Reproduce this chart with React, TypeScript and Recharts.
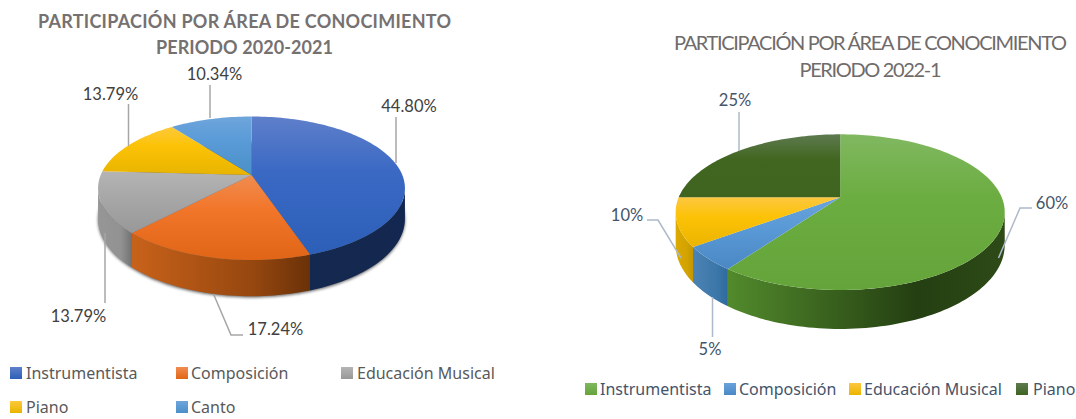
import React from "react";
import { PieChart, Pie, Legend } from "recharts";

const categories2020 = ["Instrumentista", "Composición", "Educación Musical", "Piano", "Canto"];
const values2020 = [44.8, 17.24, 13.79, 13.79, 10.34];
const labels2020 = ["44.80%", "17.24%", "13.79%", "13.79%", "10.34%"];

const categories2022 = ["Instrumentista", "Composición", "Educación Musical", "Piano"];
const values2022 = [60, 5, 10, 25];
const labels2022 = ["60%", "5%", "10%", "25%"];

const paletteLeft = [
  { light: "#5f7fca", base: "#3a69c4", dark: "#2c5fb8", sideA: "#14294f", sideM: "#14284f", sideB: "#132650" },
  { light: "#f08c50", base: "#f2762a", dark: "#e06516", sideA: "#c8621a", sideM: "#96470f", sideB: "#6a3108" },
  { light: "#b4b4b4", base: "#a8a8a8", dark: "#989898", sideA: "#969696", sideM: "#929292", sideB: "#727272" },
  { light: "#fdc93a", base: "#fcc206", dark: "#e8b400", sideA: "#c99a00", sideM: "#b88c00", sideB: "#a88000" },
  { light: "#6fa5db", base: "#5a9bd8", dark: "#4a90c8", sideA: "#4a86bd", sideM: "#3d74a6", sideB: "#30618f" },
];
const paletteRight = [
  { light: "#80b860", base: "#6cad41", dark: "#64a43a", sideA: "#528a2c", sideM: "#243f12", sideB: "#2d4a17" },
  { light: "#6aa3dc", base: "#5a9ad6", dark: "#4a88c4", sideA: "#4b83b3", sideM: "#3c77a9", sideB: "#2f6a9e" },
  { light: "#fdc740", base: "#fcc206", dark: "#ecb400", sideA: "#dcaa00", sideM: "#d2a200", sideB: "#c49600" },
  { light: "#5e7a50", base: "#41661f", dark: "#3f6420", sideA: "#3f6420", sideM: "#34541a", sideB: "#2a4415" },
];

type View = { id: string; tilt: number; persp: number; depth: number; shadow: boolean };
const viewLeft: View = { id: "l", tilt: 0.4596, persp: 0.185, depth: 29.5, shadow: true };
const viewRight: View = { id: "r", tilt: 0.4644, persp: 0.191, depth: 31.5, shadow: false };

const rad = (d: number) => (d * Math.PI) / 180;

function project(p: any, view: View, theta: number, drop = 0) {
  const u = Math.sin(rad(theta));
  const v = -Math.cos(rad(theta));
  const w = 1 - view.persp * v;
  return [p.cx + (p.outerRadius * u) / w, p.cy + (p.outerRadius * view.tilt * v + drop) / w];
}

function arc(p: any, view: View, a: number, b: number, drop = 0) {
  const n = Math.max(2, Math.ceil(Math.abs(b - a) / 1.5));
  const pts: number[][] = [];
  for (let i = 0; i <= n; i++) pts.push(project(p, view, a + ((b - a) * i) / n, drop));
  return pts;
}
const toPath = (pts: number[][]) => pts.map((q, i) => `${i ? "L" : "M"}${q[0].toFixed(2)} ${q[1].toFixed(2)}`).join(" ");

const topShape = (view: View, palette: any[]) => (p: any) => {
  const a = 90 - p.startAngle;
  const b = 90 - p.endAngle;
  const c = palette[p.index];
  const gid = `${view.id}-top-${p.index}`;
  return (
    <g>
      <defs>
        <linearGradient id={gid} x1="0" y1="0" x2="0" y2="1">
          <stop offset="0" stopColor={c.light} />
          <stop offset="0.4" stopColor={c.base} />
          <stop offset="1" stopColor={c.dark} />
        </linearGradient>
      </defs>
      <path d={`M${p.cx} ${p.cy} ${toPath(arc(p, view, a, b)).replace(/^M/, "L")} Z`} fill={`url(#${gid})`} />
    </g>
  );
};

const sideShape = (view: View, palette: any[]) => (p: any) => {
  const edge = (Math.acos(-view.persp) * 180) / Math.PI;
  const a = Math.max(90 - p.startAngle, edge);
  const b = Math.min(90 - p.endAngle, 360 - edge);
  const c = palette[p.index];
  const gid = `${view.id}-side-${p.index}`;
  const shadow = view.shadow && p.index === 0 ? (
    <g>
      <defs>
        <filter id={`${view.id}-blur`} x="-10%" y="-20%" width="120%" height="140%">
          <feGaussianBlur stdDeviation="1.6" />
        </filter>
      </defs>
      <path
        d={`${toPath(arc(p, view, 0, 360, view.depth + 1))} Z`}
        fill="#000"
        fillOpacity={0.6}
        filter={`url(#${view.id}-blur)`}
      />
    </g>
  ) : null;
  if (b <= a) return <g>{shadow}</g>;
  const upper = arc(p, view, a, b);
  const lower = arc(p, view, b, a, view.depth);
  const xs = upper.map((q) => q[0]);
  return (
    <g>
      {shadow}
      <defs>
        <linearGradient id={gid} gradientUnits="userSpaceOnUse" x1={Math.min(...xs)} y1="0" x2={Math.max(...xs)} y2="0">
          <stop offset="0" stopColor={c.sideA} />
          <stop offset="0.68" stopColor={c.sideM} />
          <stop offset="1" stopColor={c.sideB} />
        </linearGradient>
      </defs>
      <path d={`${toPath(upper)} ${toPath(lower).replace(/^M/, "L")} Z`} fill={`url(#${gid})`} />
    </g>
  );
};

const calloutsLeft = [
  { x: 409, y: 106, line: [[396, 117], [396, 163]] },
  { x: 275.5, y: 329, line: [[243, 335], [231, 335], [213.5, 294]] },
  { x: 78.5, y: 316, line: [[105, 303], [105, 233]] },
  { x: 110.5, y: 93.5, line: [[128.5, 104], [128.5, 146]] },
  { x: 214.5, y: 74, line: [[210, 85], [210, 118]] },
];
const calloutsRight = [
  { x: 1052, y: 203, line: [[1032, 208], [1020, 208], [998.5, 258]] },
  { x: 710, y: 349, line: [[712.5, 337], [712.5, 297]] },
  { x: 627, y: 215, line: [[647, 220], [658, 220], [681, 258]] },
  { x: 735, y: 100, line: [[739, 112], [739, 151]] },
];

const labelFont = "Lato, 'Open Sans', sans-serif";
const legendFont = "'Noto Sans', 'Open Sans', sans-serif";

const callout = (items: any[], texts: string[], offset: number, color: string, lineColor: string) => (p: any) => {
  const it = items[p.index];
  return (
    <g>
      <polyline
        points={it.line.map((q: number[]) => `${q[0] - offset},${q[1]}`).join(" ")}
        fill="none"
        stroke={lineColor}
        strokeWidth={1.5}
      />
      <text x={it.x - offset} y={it.y + 6} textAnchor="middle" fill={color} fontFamily={labelFont} fontSize={16.5}>
        {texts[p.index]}
      </text>
    </g>
  );
};

const legendContent = (
  names: any[],
  palette: any[],
  cells: { sq: number; tx: number; y: number }[],
  color: string
) => () => (
  <div style={{ position: "relative", width: 0, height: 0 }}>
    {names.map((n, i) => {
      const c = cells[i];
      return (
        <React.Fragment key={n}>
          <span
            style={{
              position: "absolute",
              left: c.sq,
              top: c.y - 6,
              width: 12,
              height: 12,
              background: `linear-gradient(${palette[i].light}, ${palette[i].dark})`,
            }}
          />
          <span
            style={{
              position: "absolute",
              left: c.tx,
              top: c.y - 9,
              lineHeight: "18px",
              whiteSpace: "nowrap",
              fontFamily: legendFont,
              fontSize: 16,
              color,
            }}
          >
            {n}
          </span>
        </React.Fragment>
      );
    })}
  </div>
);

const legendCellsLeft = [
  { sq: 10, tx: 26, y: 373 },
  { sq: 176, tx: 191, y: 373 },
  { sq: 341, tx: 357, y: 373 },
  { sq: 10, tx: 26, y: 407 },
  { sq: 176, tx: 191, y: 407 },
];
const legendCellsRight = [
  { sq: 47, tx: 62, y: 389 },
  { sq: 186, tx: 201, y: 389 },
  { sq: 311, tx: 326, y: 389 },
  { sq: 478, tx: 495, y: 389 },
];

const toRows = (names: string[], vals: number[]) => names.map((name, i) => ({ name, value: vals[i] }));

const titleStyle = { fontFamily: "Lato, 'Open Sans', sans-serif" };

export default function App() {
  return (
    <div style={{ position: "absolute", left: 0, top: 0, width: 1076, height: 419, overflow: "hidden", background: "#fff" }}>
      <div style={{ position: "absolute", left: 0, top: 0 }}>
        <PieChart width={538} height={419} margin={{ top: 0, right: 0, bottom: 0, left: 0 }}>
          <Pie
            data={toRows(categories2020, values2020)}
            dataKey="value"
            cx={251.5}
            cy={175}
            outerRadius={150.8}
            startAngle={90}
            endAngle={-270}
            stroke="none"
            legendType="none"
            isAnimationActive={false}
            shape={sideShape(viewLeft, paletteLeft)}
          />
          <Pie
            data={toRows(categories2020, values2020)}
            dataKey="value"
            cx={251.5}
            cy={175}
            outerRadius={150.8}
            startAngle={90}
            endAngle={-270}
            stroke="none"
            isAnimationActive={false}
            labelLine={false}
            label={callout(calloutsLeft, labels2020, 0, "#404040", "#a6a6a6")}
            shape={topShape(viewLeft, paletteLeft)}
          />
          <text x={244.5} y={27.5} textAnchor="middle" fill="#767171" fontWeight={700} fontSize={18} textLength={413} style={titleStyle}>
            PARTICIPACIÓN POR ÁREA DE CONOCIMIENTO
          </text>
          <text x={244.5} y={53.5} textAnchor="middle" fill="#767171" fontWeight={700} fontSize={18} textLength={177} style={titleStyle}>
            PERIODO 2020-2021
          </text>
          <Legend
            verticalAlign="bottom"
            wrapperStyle={{ position: "absolute", left: 0, top: 0, bottom: "auto", width: 0, height: 0 }}
            content={legendContent(categories2020, paletteLeft, legendCellsLeft, "#595959")}
          />
        </PieChart>
      </div>
      <div style={{ position: "absolute", left: 538, top: 0 }}>
        <PieChart width={538} height={419} margin={{ top: 0, right: 0, bottom: 0, left: 0 }}>
          <Pie
            data={toRows(categories2022, values2022)}
            dataKey="value"
            cx={302.2}
            cy={197.3}
            outerRadius={161.5}
            startAngle={90}
            endAngle={-270}
            stroke="none"
            legendType="none"
            isAnimationActive={false}
            shape={sideShape(viewRight, paletteRight)}
          />
          <Pie
            data={toRows(categories2022, values2022)}
            dataKey="value"
            cx={302.2}
            cy={197.3}
            outerRadius={161.5}
            startAngle={90}
            endAngle={-270}
            stroke="none"
            isAnimationActive={false}
            labelLine={false}
            label={callout(calloutsRight, labels2022, 538, "#44546a", "#adb9ca")}
            shape={topShape(viewRight, paletteRight)}
          />
          <text x={332.5} y={50} textAnchor="middle" fill="#6f6b6b" fontSize={20} textLength={393} lengthAdjust="spacing" style={titleStyle}>
            PARTICIPACIÓN POR ÁREA DE CONOCIMIENTO
          </text>
          <text x={332.5} y={77} textAnchor="middle" fill="#6f6b6b" fontSize={20} textLength={142} lengthAdjust="spacing" style={titleStyle}>
            PERIODO 2022-1
          </text>
          <Legend
            verticalAlign="bottom"
            wrapperStyle={{ position: "absolute", left: 0, top: 0, bottom: "auto", width: 0, height: 0 }}
            content={legendContent(categories2022, paletteRight, legendCellsRight, "#44546a")}
          />
        </PieChart>
      </div>
    </div>
  );
}
